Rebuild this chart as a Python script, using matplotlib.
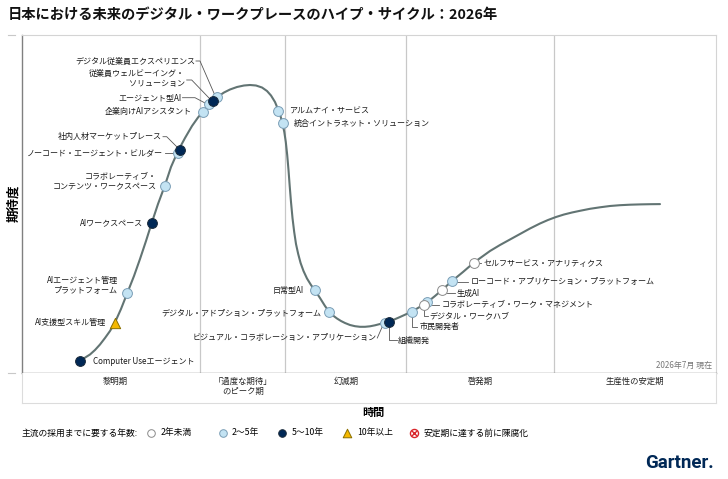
import matplotlib.pyplot as plt

plt.rcParams['font.family'] = ['Noto Sans CJK JP', 'DejaVu Sans']

# ---- data (x: time, y: expectations) ----
curve_x = [58, 61, 64, 68, 73, 78, 83, 88, 92.7, 99, 105.3, 112, 118, 124, 129.7, 136, 142.7, 149, 156,
           163, 170, 176, 181, 186, 191, 196, 202, 208, 215, 222, 228, 234, 240, 245, 249, 253, 256.3,
           258.5, 260.5, 262.3, 263.8, 265.2, 266.5, 267.7, 269, 270.5, 272.2, 274, 276.2, 278.6, 281.5,
           285, 289, 293, 298, 303, 307, 311, 315, 319, 323, 328, 333, 338, 343, 348, 353, 358, 363,
           367, 378, 389.7, 401, 405, 413, 420, 430, 441, 452, 468, 478, 488, 498, 508, 518, 526, 534,
           542, 550, 558, 568, 578, 588, 598, 608, 618, 628, 638]
curve_y = [12.3, 14, 16, 18.5, 23, 28.5, 35, 42, 50, 64, 80, 97, 114, 132, 150, 169, 187, 206, 222,
           235, 247, 255.5, 261.5, 267.5, 272.5, 276.5, 280.5, 283.5, 286, 287.5, 288, 287.5, 285.5, 282,
           277.5, 271, 263, 257, 249.5, 241, 231, 218, 203, 187, 171, 155, 141, 129, 119, 110, 102,
           94.5, 88, 82.5, 75, 67, 61.5, 57.5, 54.5, 52, 50, 48, 46.8, 46.2, 46.2, 46.7, 47.7, 49, 50.3,
           51.2, 56, 61.3, 68, 70.5, 77, 83, 92, 101, 110.5, 122, 128, 133.5, 139, 144.5, 149.5, 153, 156,
           158.5, 160.5, 162.2, 164.2, 165.7, 167, 167.8, 168.3, 168.6, 168.8, 168.9]

tech_names = ["Computer Useエージェント", "AI支援型スキル管理", "AIエージェント管理\nプラットフォーム",
              "AIワークスペース", "コラボレーティブ・\nコンテンツ・ワークスペース", "ノーコード・エージェント・ビルダー",
              "社内人材マーケットプレース", "企業向けAIアシスタント", "エージェント型AI",
              "従業員ウェルビーイング・\nソリューション", "デジタル従業員エクスペリエンス", "アルムナイ・サービス",
              "統合イントラネット・ソリューション", "日常型AI", "デジタル・アドプション・プラットフォーム",
              "ビジュアル・コラボレーション・アプリケーション", "組織開発", "市民開発者",
              "コラボレーティブ・ワーク・マネジメント", "デジタル・ワークハブ", "生成AI",
              "ローコード・アプリケーション・プラットフォーム", "セルフサービス・アナリティクス"]
tech_x = [58, 92.7, 105.3, 129.7, 142.7, 155.7, 158, 180.7, 187, 190.7, 194.7, 256, 261,
          293, 307, 363, 367, 389.7, 405.3, 402, 420, 430, 452]
tech_y = [12.3, 50, 80, 150, 187, 219.7, 223, 261, 269, 272.3, 275.7, 262.3, 250.3,
          83, 61, 50.3, 51, 61.3, 70.7, 68, 83, 92, 110]
# years to mainstream: 0 = <2, 1 = 2-5, 2 = 5-10, 3 = >10
tech_years = [2, 3, 1, 2, 1, 1, 2, 1, 1, 2, 1, 1, 1, 1, 1, 1, 2, 1, 1, 0, 0, 1, 0]

phase_names = ["黎明期", "「過度な期待」\nのピーク期", "幻滅期", "啓発期", "生産性の安定期"]
phase_bounds = [178, 263, 384, 532]
legend_labels = ["2年未満", "2〜5年", "5〜10年", "10年以上", "安定期に達する前に陳腐化"]

# ---- label layout (x, y, ha) and leader lines ----
label_pos = [(70.7, 11.3, 'left'), (84, 50.7, 'right'), (96.3, 87.3, 'right'), (120.7, 150, 'right'),
             (135, 191, 'right'), (141.3, 219.7, 'right'), (139.7, 236.3, 'right'), (169.7, 261.3, 'right'),
             (159.7, 275.3, 'right'), (163, 294.2, 'right'), (173, 312, 'right'), (267.3, 262.3, 'left'),
             (271.3, 249.7, 'left'), (282, 83, 'right'), (299.7, 60, 'right'), (354.7, 35.3, 'right'),
             (376.3, 33, 'left'), (398, 46.3, 'left'), (419.7, 68, 'left'), (407.3, 57, 'left'),
             (434.7, 79.7, 'left'), (449, 91.3, 'left'), (461.3, 109.7, 'left')]
leaders = [
    [(143, 219.7), (152, 219.7)],
    [(141, 236.3), (144.7, 236.3), (156, 225)],
    [(160.5, 275.3), (173, 275.3), (184, 269.5)],
    [(164.7, 293), (169.7, 293), (187.5, 274.5)],
    [(174, 312), (178, 312), (193, 277.5)],
    [(355.3, 35), (361, 48)],
    [(367.3, 48), (367.3, 33), (374.7, 33)],
    [(389.7, 58), (389.7, 46.3), (395.5, 46.3)],
    [(409.7, 68), (417.3, 68)],
    [(402.3, 65), (402.3, 57), (406, 57)],
    [(424.7, 80), (424.7, 79.7), (433, 79.7)],
    [(434.7, 91.3), (446.3, 91.3)],
    [(456, 110), (459.5, 110)],
]

light_fc, light_ec = '#c3e3f3', '#7a9db5'
dark_fc, dark_ec = '#002856', '#1a2a3a'
white_fc, white_ec = '#ffffff', '#8a8a8a'
tri_fc, tri_ec = '#f5b800', '#8a7000'
styles = {0: ('o', white_fc, white_ec), 1: ('o', light_fc, light_ec),
          2: ('o', dark_fc, dark_ec), 3: ('^', tri_fc, tri_ec)}

W, H = 728, 479
fig = plt.figure(figsize=(W / 100, H / 100), dpi=100)

# overlay in pixel coordinates for title, legend, logo
ov = fig.add_axes([0, 0, 1, 1])
ov.set_xlim(0, W)
ov.set_ylim(H, 0)
ov.axis('off')

ax = fig.add_axes([22 / W, 1 - 373 / H, 694 / W, 338 / H])
ax.set_xlim(0, 694)
ax.set_ylim(0, 338)
ax.set_xticks([])
ax.set_yticks([])
for s in ['top', 'right']:
    ax.spines[s].set_color('#d4d4d4')
    ax.spines[s].set_linewidth(0.8)
ax.spines['left'].set_color('#808080')
ax.spines['bottom'].set_color('#808080')
ax.spines['left'].set_linewidth(1.0)
ax.spines['bottom'].set_linewidth(1.0)

for b in phase_bounds:
    ax.axvline(b, color='#c8c8c8', lw=0.9, zorder=1)

ax.plot(curve_x, curve_y, color='#627473', lw=1.5, zorder=2,
        solid_capstyle='round', solid_joinstyle='round')

for pts in leaders:
    xs, ys = zip(*pts)
    ax.plot(xs, ys, color='#555555', lw=0.6, zorder=2)

# draw in order: light first, then white, dark and triangle on top
order = sorted(range(len(tech_names)), key=lambda i: {0: 1, 1: 0, 2: 2, 3: 2}[tech_years[i]])
for i in order:
    m, fc, ec = styles[tech_years[i]]
    ax.scatter(tech_x[i], tech_y[i], s=50 if m == 'o' else 55, marker=m, facecolor=fc,
               edgecolor=ec, linewidth=0.7, zorder=3)

for name, (lx, ly, ha) in zip(tech_names, label_pos):
    ax.text(lx, ly, name, fontsize=5.8, ha=ha, va='center', color='#1a1a1a',
            multialignment=ha, linespacing=1.15, zorder=4)

ax.text(690, 8, "2026年7月 現在", fontsize=5.8, ha='right', va='center', color='#777777')

# phase band
band = fig.add_axes([22 / W, 1 - 403 / H, 694 / W, 30 / H])
band.set_xlim(0, 694)
band.set_ylim(30, 0)
band.set_xticks([])
band.set_yticks([])
for s in band.spines.values():
    s.set_color('#dcdcdc')
    s.set_linewidth(0.8)
band.spines['top'].set_visible(False)
phase_cx = [93, 221, 324, 458, 613]
for name, cx in zip(phase_names, phase_cx):
    band.text(cx, 3.5, name, fontsize=6, ha='center', va='top', color='#222222', linespacing=1.2)

# small marks left of the axis
ov.plot([8, 15], [35, 35], color='#c8c8c8', lw=0.8)
ov.plot([8, 15], [373, 373], color='#c8c8c8', lw=0.8)

ov.text(8, 15, "日本における未来のデジタル・ワークプレースのハイプ・サイクル：2026年",
        fontsize=10.3, fontweight='bold', ha='left', va='center', color='#111111')
ov.text(14, 203, "期待度", fontsize=9, fontweight='bold', rotation=90, ha='center', va='center')
ov.text(373, 412, "時間", fontsize=8, fontweight='bold', ha='center', va='center')

# legend
ov.text(22, 433, "主流の採用までに要する年数:", fontsize=6.3, ha='left', va='center')
leg_mx = [151, 223, 282, 347, 413.6]
leg_tx = [161, 232, 292, 357, 424]
for k in range(4):
    m, fc, ec = styles[k]
    ov.scatter(leg_mx[k], 433, s=30 if m == 'o' else 38, marker=m, facecolor=fc, edgecolor=ec, linewidth=0.7)
ov.scatter(leg_mx[4], 433, s=34, marker='o', facecolor='white', edgecolor='#d9262b', linewidth=1.0)
ov.scatter(leg_mx[4], 433, s=14, marker='x', color='#d9262b', linewidth=1.0)
for lbl, tx in zip(legend_labels, leg_tx):
    ov.text(tx, 433, lbl, fontsize=6.3, ha='left', va='center')

ov.text(714, 463, "Gartner.", fontsize=13.5, fontweight='bold', ha='right', va='center',
        color='#002856', family='Roboto')

fig.savefig('out.png', dpi=100)
